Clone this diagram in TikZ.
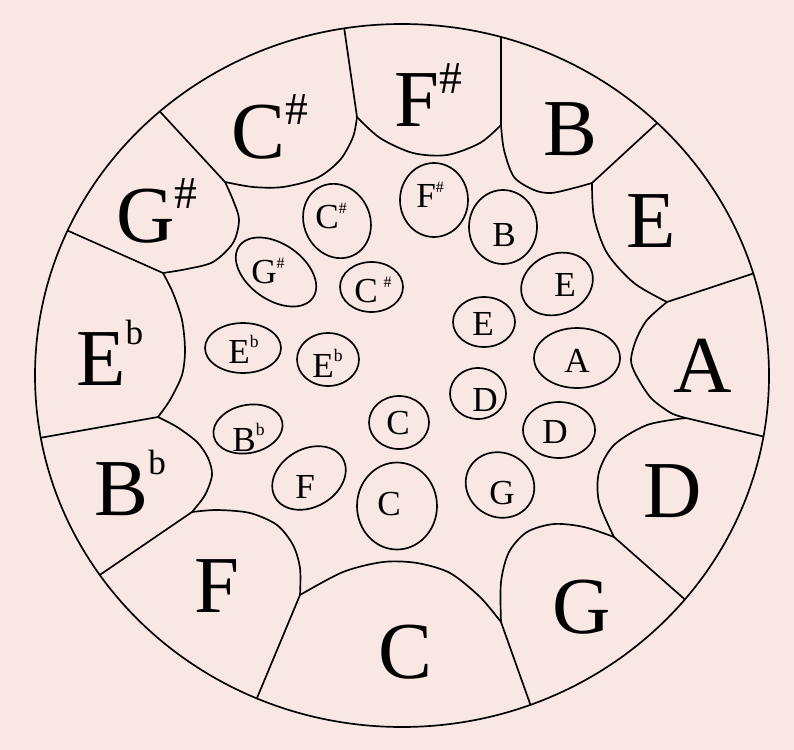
\documentclass[tikz,border=0pt]{standalone}
\usepackage{fontspec}
\setmainfont{Liberation Serif}
\definecolor{drumbg}{RGB}{249,231,228}
\newcommand{\bsharp}{\raisebox{19pt}{\fontsize{26}{26}\selectfont\#}}
\newcommand{\bflat}{\raisebox{23pt}{\fontsize{20}{20}\selectfont b}}
\newcommand{\ssharp}{\raisebox{8.5pt}{\fontsize{9}{9}\selectfont\#}}
\newcommand{\sflat}{\raisebox{9pt}{\fontsize{10}{10}\selectfont b}}
\tikzset{
  rim/.style={line width=0.95pt},
  notelabel/.style={anchor=base west, inner sep=0pt, font=\fontsize{46}{50}\selectfont},
  dimplelabel/.style={anchor=base west, inner sep=0pt, font=\fontsize{20}{24}\selectfont}
}
\begin{document}
\begin{tikzpicture}[x=0.02cm, y=-0.02cm]
  % Background
  \fill[drumbg] (0,0) rectangle (794,750);
  % Outer rim
  \draw[rim] (402,375.5) ellipse [x radius=367, y radius=351.5];
  % Junctions between the outer pads
  \coordinate (jCsFs) at (357,117);
  \coordinate (jFsB) at (501,125);
  \coordinate (jBE) at (592,183);
  \coordinate (jEA) at (667,302);
  \coordinate (jAD) at (686,418);
  \coordinate (jDG) at (614,537);
  \coordinate (jGC) at (501,622);
  \coordinate (jCF) at (300,595);
  \coordinate (jFBb) at (192,512);
  \coordinate (jBbEb) at (158,417);
  \coordinate (jEbGs) at (163,273);
  \coordinate (jGsCs) at (225,182);
  % Pad borders out to the rim
  \begin{scope}
    \clip (402,375.5) ellipse [x radius=367, y radius=351.5];
    \draw[rim] (jCsFs) -- (343,20);
    \draw[rim] (jFsB) -- (501,20);
    \draw[rim] (jBE) -- (668,113);
    \draw[rim] (jEA) -- (770,268);
    \draw[rim] (jAD) -- (778,440);
    \draw[rim] (jDG) -- (698,611);
    \draw[rim] (jGC) -- (533,712);
    \draw[rim] (jCF) -- (252,710);
    \draw[rim] (jFBb) -- (88,583);
    \draw[rim] (jBbEb) -- (28,440);
    \draw[rim] (jEbGs) -- (55,225);
    \draw[rim] (jGsCs) -- (152,103);
  \end{scope}
  % Inner edges of the pads
  \draw[rim] plot[smooth] coordinates {(jCsFs) (380,138) (413,153) (447,155) (480,143) (jFsB)}; % F#
  \draw[rim] plot[smooth] coordinates {(jFsB) (504,150) (514,177) (534,190) (551,193) (574,188) (jBE)}; % B
  \draw[rim] plot[smooth] coordinates {(jBE) (594,217) (607,253) (634,283) (jEA)}; % E
  \draw[rim] plot[smooth] coordinates {(jEA) (647,320) (636,340) (631,360) (636,375) (651,398) (671,413) (jAD)}; % A
  \draw[rim] plot[smooth] coordinates {(jAD) (647,425) (614,445) (599,472) (599,502) (jDG)}; % D
  \draw[rim] plot[smooth] coordinates {(jDG) (584,527) (554,524) (527,532) (509,552) (501,582) (jGC)}; % G
  \draw[rim] plot[smooth] coordinates {(jGC) (480,597) (450,573) (417,563) (383,562) (343,572) (jCF)}; % C
  \draw[rim] plot[smooth] coordinates {(jCF) (300,568) (293,545) (277,525) (250,513) (217,510) (jFBb)}; % F
  \draw[rim] plot[smooth] coordinates {(jFBb) (205,495) (212,475) (208,458) (197,442) (177,427) (jBbEb)}; % Bb
  \draw[rim] plot[smooth] coordinates {(jBbEb) (170,400) (182,375) (185,350) (182,320) (173,293) (jEbGs)}; % Eb
  \draw[rim] plot[smooth] coordinates {(jEbGs) (187,269) (213,262) (233,243) (239,220) (233,200) (jGsCs)}; % G#
  \draw[rim] plot[smooth] coordinates {(jGsCs) (253,187) (283,187) (317,178) (340,160) (353,137) (jCsFs)}; % C#
  % Outer pad notes
  \node[notelabel] (Fs) at (394,127) {F\bsharp};
  \node[notelabel] (B) at (543,155) {B};
  \node[notelabel] (E) at (626,247) {E};
  \node[notelabel] (A) at (673,392) {A};
  \node[notelabel] (D) at (643,517) {D};
  \node[notelabel] (G) at (552,633) {G};
  \node[notelabel] (C) at (378,678) {C};
  \node[notelabel] (F) at (194,612) {F};
  \node[notelabel] (Bb) at (94,515) {B\bflat};
  \node[notelabel] (Eb) at (76,385) {E\bflat};
  \node[notelabel] (Gs) at (116,242) {G\bsharp};
  \node[notelabel] (Cs) at (231,158) {C\bsharp};
  % Dimples
  \draw[rim] (434,200) ellipse [x radius=34, y radius=37]; % F#
  \draw[rim] (503,227) ellipse [x radius=34, y radius=37]; % B
  \draw[rim, rotate around={25:(557,284)}] (557,284) ellipse [x radius=37, y radius=30]; % E
  \draw[rim] (577,358) ellipse [x radius=43, y radius=30]; % A
  \draw[rim] (559,430) ellipse [x radius=36, y radius=28]; % D
  \draw[rim, rotate around={-30:(500,485)}] (500,485) ellipse [x radius=35, y radius=32]; % G
  \draw[rim] (397,506) ellipse [x radius=40, y radius=43.5]; % C
  \draw[rim, rotate around={30:(309,478)}] (309,478) ellipse [x radius=39, y radius=29]; % F
  \draw[rim, rotate around={12:(248,429)}] (248,429) ellipse [x radius=35, y radius=24]; % Bb
  \draw[rim] (243,348) ellipse [x radius=38, y radius=25]; % Eb
  \draw[rim, rotate around={-35:(276,272)}] (276,272) ellipse [x radius=45, y radius=28]; % G#
  \draw[rim, rotate around={25:(337,221)}] (337,221) ellipse [x radius=33, y radius=38]; % C#
  \draw[rim] (371.5,287) ellipse [x radius=31.5, y radius=25]; % C# middle
  \draw[rim] (328,359.5) ellipse [x radius=31, y radius=26.5]; % Eb middle
  \draw[rim] (484,322) ellipse [x radius=31, y radius=25]; % E middle
  \draw[rim] (478,393.5) ellipse [x radius=28, y radius=25.5]; % D middle
  \draw[rim] (399,422.5) ellipse [x radius=30, y radius=26.5]; % C middle
  % Dimple notes
  \node[dimplelabel] (fs1) at (416,207) {F\ssharp};
  \node[dimplelabel] (b1) at (492,246) {B};
  \node[dimplelabel] (e1) at (554,296) {E};
  \node[dimplelabel] (a1) at (564,372) {A};
  \node[dimplelabel] (d1) at (542,443) {D};
  \node[dimplelabel] (g1) at (489,504) {G};
  \node[dimplelabel] (c1) at (377,515) {C};
  \node[dimplelabel] (f1) at (295,498) {F};
  \node[dimplelabel] (bb1) at (232,451) {B\sflat};
  \node[dimplelabel] (eb1) at (228,363) {E\sflat};
  \node[dimplelabel] (gs1) at (251,283) {G\ssharp};
  \node[dimplelabel] (cs1) at (315,228) {C\ssharp};
  \node[dimplelabel] (cs2) at (354,302) {C\,\ssharp};
  \node[dimplelabel] (eb2) at (312,377) {E\sflat};
  \node[dimplelabel] (e2) at (472,335) {E};
  \node[dimplelabel] (d2) at (472,411) {D};
  \node[dimplelabel] (c2) at (386,434) {C};
\end{tikzpicture}
\end{document}
